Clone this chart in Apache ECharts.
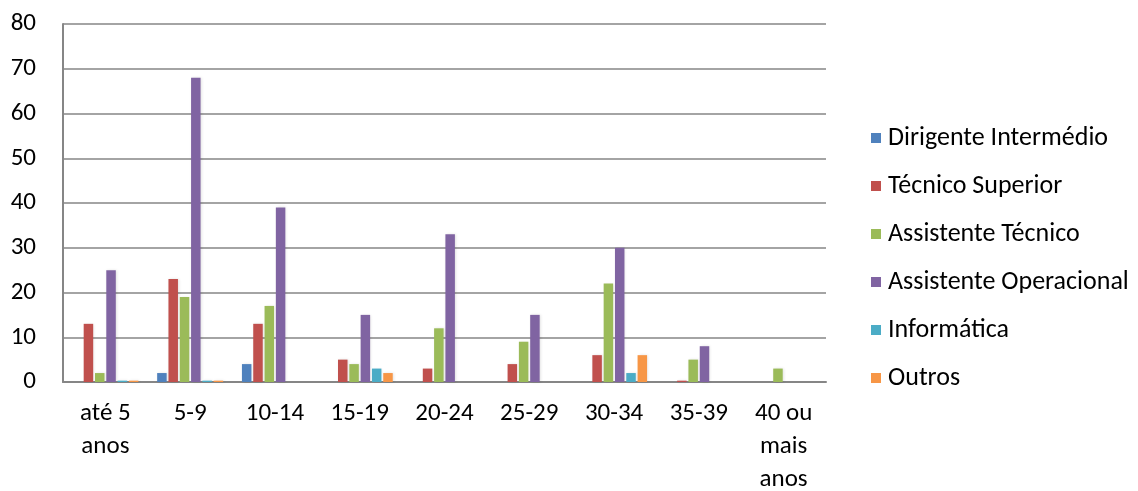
<!DOCTYPE html>
<html>
<head>
<meta charset="utf-8">
<script src="https://cdn.jsdelivr.net/npm/echarts@6/dist/echarts.min.js"></script>
<style>html,body{margin:0;padding:0;background:#fff}#c{width:1138px;height:491px}</style>
</head>
<body>
<div id="c"></div>
<script>
const categories = ['até 5\nanos', '5-9', '10-14', '15-19', '20-24', '25-29', '30-34', '35-39', '40 ou\nmais\nanos'];
const dirigenteIntermedio = [0, 2, 4, 0, 0, 0, 0, 0, 0];
const tecnicoSuperior = [13, 23, 13, 5, 3, 4, 6, 0.3, 0];
const assistenteTecnico = [2, 19, 17, 4, 12, 9, 22, 5, 3];
const assistenteOperacional = [25, 68, 39, 15, 33, 15, 30, 8, 0];
const informatica = [0.3, 0.3, 0, 3, 0, 0, 2, 0, 0];
const outros = [0.3, 0.3, 0, 2, 0, 0, 6, 0, 0];
const yTicks = [0, 10, 20, 30, 40, 50, 60, 70, 80];

const seriesDefs = [
  ['Dirigente Intermédio', dirigenteIntermedio, '#4F81BD'],
  ['Técnico Superior', tecnicoSuperior, '#C0504D'],
  ['Assistente Técnico', assistenteTecnico, '#9BBB59'],
  ['Assistente Operacional', assistenteOperacional, '#8064A2'],
  ['Informática', informatica, '#4BACC6'],
  ['Outros', outros, '#F79646']
];
const font = 'Carlito, Calibri, Lato, sans-serif';
const fs = 25;
const chart = echarts.init(document.getElementById('c'), null, {renderer: 'canvas'});
chart.setOption({
  animation: false,
  textStyle: {fontFamily: font},
  grid: {left: 63, right: 312, top: 24, bottom: 109, containLabel: false, outerBoundsMode: 'none'},
  legend: {
    orient: 'vertical', left: 866, top: 120,
    itemWidth: 10, itemHeight: 10, itemGap: 22,
    icon: 'rect',
    textStyle: {fontSize: 26, color: '#000', fontFamily: font, padding: [0, 0, 0, 2]},
    data: seriesDefs.map(s => s[0])
  },
  xAxis: {
    type: 'category', data: categories,
    axisLine: {lineStyle: {color: '#868686', width: 2}},
    axisTick: {show: false},
    axisLabel: {color: '#000', fontSize: fs, margin: 15, lineHeight: 33, interval: 0, fontFamily: font}
  },
  yAxis: {
    type: 'value', min: yTicks[0], max: yTicks[yTicks.length - 1], interval: 10,
    axisLine: {show: true, lineStyle: {color: '#868686', width: 2}},
    axisTick: {show: false},
    axisLabel: {color: '#000', fontSize: fs, margin: 27, fontFamily: font},
    splitLine: {lineStyle: {color: '#868686', width: 1.5}}
  },
  series: seriesDefs.map(s => ({
    name: s[0], type: 'bar', data: s[1],
    barWidth: 9.5, barGap: '19%',
    itemStyle: {color: s[2], shadowColor: 'rgba(0,0,0,0.12)', shadowBlur: 3, shadowOffsetX: 1}
  }))
});
</script>
</body>
</html>
